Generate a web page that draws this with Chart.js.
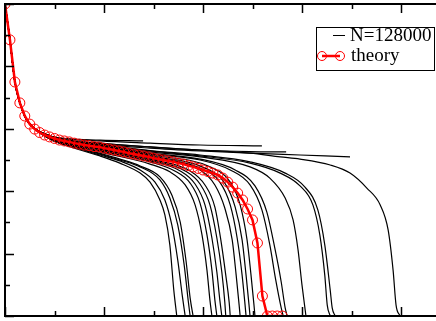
<!DOCTYPE html>
<html>
<head>
<meta charset="utf-8">
<script src="https://cdn.jsdelivr.net/npm/chart.js@4"></script>
<style>
  html, body { margin: 0; padding: 0; background: #fff; overflow: hidden; }
  canvas { display: block; }
</style>
</head>
<body>
<canvas id="chart" width="436" height="321"></canvas>
<script>
// --- Data ---
// theory curve, one circle every 0.01
const theoryX = [0, 0.01, 0.02, 0.03, 0.04, 0.05, 0.06, 0.07, 0.08, 0.09,
  0.10, 0.11, 0.12, 0.13, 0.14, 0.15, 0.16, 0.17, 0.18, 0.19,
  0.20, 0.21, 0.22, 0.23, 0.24, 0.25, 0.26, 0.27, 0.28, 0.29,
  0.30, 0.31, 0.32, 0.33, 0.34, 0.35, 0.36, 0.37, 0.38, 0.39,
  0.40, 0.41, 0.42, 0.43, 0.44, 0.45, 0.46, 0.47, 0.48, 0.49,
  0.50, 0.51, 0.52, 0.53, 0.54, 0.55, 0.56];
const theoryY = [1.000, 0.885, 0.750, 0.683, 0.641, 0.615, 0.599, 0.588, 0.580, 0.574,
  0.569, 0.564, 0.561, 0.558, 0.554, 0.551, 0.548, 0.546, 0.543, 0.542,
  0.538, 0.535, 0.532, 0.529, 0.526, 0.522, 0.519, 0.516, 0.513, 0.510,
  0.506, 0.503, 0.500, 0.497, 0.494, 0.490, 0.487, 0.482, 0.478, 0.473,
  0.468, 0.463, 0.458, 0.452, 0.442, 0.429, 0.413, 0.394, 0.372, 0.343,
  0.308, 0.234, 0.064, 0, 0, 0, 0];

// all N=128000 runs share the same start
const runHead = [[0, 1], [0.01, 0.885], [0.02, 0.75], [0.03, 0.683], [0.04, 0.641], [0.05, 0.615]];

// the rest of each run, [x, y]
const runTails = [
  [[0.091,0.567],[0.152,0.532],[0.192,0.513],[0.232,0.490],[0.273,0.458],[0.293,0.429],[0.313,0.372],[0.323,0.324],[0.333,0.228],[0.341,0.083],[0.347,0]],
  [[0.091,0.567],[0.152,0.535],[0.192,0.516],[0.232,0.497],[0.273,0.468],[0.303,0.429],[0.323,0.372],[0.337,0.292],[0.349,0.179],[0.358,0.067],[0.364,0]],
  [[0.091,0.571],[0.152,0.538],[0.192,0.519],[0.232,0.500],[0.273,0.478],[0.313,0.436],[0.333,0.378],[0.349,0.292],[0.362,0.163],[0.370,0.051],[0.374,0]],
  [[0.091,0.571],[0.192,0.521],[0.232,0.503],[0.273,0.481],[0.313,0.446],[0.337,0.388],[0.354,0.301],[0.366,0.173],[0.374,0.058],[0.380,0]],
  [[0.091,0.571],[0.192,0.526],[0.293,0.487],[0.333,0.462],[0.364,0.420],[0.384,0.356],[0.398,0.260],[0.408,0.147],[0.414,0.051],[0.418,0]],
  [[0.091,0.572],[0.192,0.529],[0.293,0.494],[0.343,0.465],[0.374,0.426],[0.394,0.362],[0.408,0.260],[0.418,0.147],[0.424,0.051],[0.428,0]],
  [[0.091,0.574],[0.192,0.532],[0.293,0.497],[0.354,0.465],[0.384,0.423],[0.404,0.356],[0.418,0.250],[0.428,0.141],[0.434,0.051],[0.438,0]],
  [[0.091,0.574],[0.192,0.534],[0.293,0.500],[0.364,0.465],[0.394,0.423],[0.414,0.356],[0.428,0.250],[0.438,0.141],[0.444,0.045],[0.446,0]],
  [[0.091,0.574],[0.192,0.535],[0.293,0.503],[0.374,0.465],[0.404,0.420],[0.424,0.349],[0.436,0.244],[0.446,0.131],[0.453,0.042],[0.455,0]],
  [[0.091,0.574],[0.192,0.538],[0.293,0.506],[0.394,0.468],[0.424,0.420],[0.444,0.346],[0.459,0.244],[0.467,0.131],[0.473,0.035],[0.475,0]],
  [[0.091,0.574],[0.192,0.540],[0.293,0.510],[0.394,0.474],[0.434,0.429],[0.455,0.356],[0.469,0.250],[0.479,0.131],[0.485,0.035],[0.487,0]],
  [[0.091,0.575],[0.192,0.542],[0.293,0.513],[0.404,0.474],[0.444,0.426],[0.465,0.349],[0.479,0.244],[0.487,0.131],[0.493,0.035],[0.495,0]],
  [[0.091,0.575],[0.192,0.543],[0.293,0.516],[0.414,0.478],[0.455,0.429],[0.475,0.356],[0.489,0.244],[0.497,0.131],[0.503,0.035],[0.505,0]],
  [[0.091,0.575],[0.192,0.545],[0.293,0.519],[0.394,0.500],[0.455,0.468],[0.495,0.420],[0.519,0.340],[0.535,0.228],[0.547,0.115],[0.558,0.026],[0.562,0]],
  [[0.091,0.577],[0.192,0.546],[0.293,0.522],[0.394,0.503],[0.465,0.468],[0.505,0.417],[0.529,0.333],[0.545,0.218],[0.558,0.109],[0.566,0.026],[0.570,0]],
  [[0.091,0.577],[0.192,0.548],[0.293,0.526],[0.394,0.510],[0.495,0.478],[0.535,0.442],[0.566,0.378],[0.582,0.308],[0.592,0.212],[0.600,0.099],[0.608,0]],
  [[0.091,0.577],[0.192,0.548],[0.293,0.529],[0.394,0.513],[0.495,0.490],[0.556,0.458],[0.596,0.417],[0.622,0.356],[0.636,0.260],[0.646,0.131],[0.651,0.035],[0.657,0]],
  [[0.091,0.577],[0.192,0.550],[0.293,0.530],[0.394,0.516],[0.495,0.494],[0.566,0.458],[0.606,0.413],[0.632,0.340],[0.646,0.228],[0.657,0.083],[0.661,0.026],[0.667,0]],
  [[0.091,0.577],[0.192,0.554],[0.293,0.542],[0.394,0.532],[0.495,0.522],[0.556,0.510],[0.596,0.503],[0.657,0.484],[0.697,0.458],[0.731,0.410],[0.758,0.356],[0.774,0.276],[0.784,0.147],[0.790,0.035],[0.798,0]],
  // runs that stop on the plateau
  [[0.091,0.577],[0.192,0.564],[0.279,0.561]],
  [[0.091,0.577],[0.192,0.561],[0.293,0.554],[0.394,0.548],[0.519,0.545]],
  [[0.091,0.574],[0.192,0.554],[0.293,0.542],[0.394,0.532],[0.495,0.527],[0.568,0.526]],
  [[0.091,0.574],[0.192,0.551],[0.293,0.538],[0.394,0.529],[0.495,0.522],[0.596,0.516],[0.697,0.510]]
];

// axis ticks (labels fall outside the picture)
const xMajor = [0, 0.2, 0.4, 0.6, 0.8];
const xMinor = [0.1, 0.3, 0.5, 0.7];
const yMajor = [0, 0.2, 0.4, 0.6, 0.8, 1.0];
const yMinor = [0.1, 0.3, 0.5, 0.7, 0.9];
const legendLabels = ['N=128000', 'theory'];

// --- Plugins ---
// xmgrace style frame with inward ticks
const framePlugin = {
  id: 'frame',
  afterDatasetsDraw(chart) {
    const { ctx, chartArea: a, scales: { x, y } } = chart;
    ctx.save();
    ctx.strokeStyle = '#000';
    ctx.lineWidth = 2;
    ctx.beginPath();
    ctx.moveTo(a.right, a.top);
    ctx.lineTo(a.left, a.top);
    ctx.lineTo(a.left, a.bottom);
    ctx.lineTo(a.right, a.bottom);
    ctx.stroke();

    ctx.lineWidth = 1.5;
    ctx.beginPath();
    const xTicks = (vals, len) => vals.forEach(v => {
      const px = Math.round(x.getPixelForValue(v)) + 0.5;
      ctx.moveTo(px, a.bottom); ctx.lineTo(px, a.bottom - len);
      ctx.moveTo(px, a.top); ctx.lineTo(px, a.top + len);
    });
    const yTicks = (vals, len) => vals.forEach(v => {
      const py = Math.round(y.getPixelForValue(v)) + 0.5;
      ctx.moveTo(a.left, py); ctx.lineTo(a.left + len, py);
    });
    xTicks(xMajor, 9);
    xTicks(xMinor, 5);
    yTicks(yMajor, 9);
    yTicks(yMinor, 5);
    ctx.stroke();
    ctx.restore();
  }
};

// boxed legend at the top right
const legendPlugin = {
  id: 'boxLegend',
  afterDraw(chart) {
    const { ctx, chartArea: a } = chart;
    const left = a.right - 120, top = a.top + 23;
    ctx.save();
    ctx.fillStyle = '#fff';
    ctx.fillRect(left, top, 118, 43);
    ctx.strokeStyle = '#000';
    ctx.lineWidth = 1;
    ctx.strokeRect(left + 0.5, top + 0.5, 118, 43);

    // N=128000
    ctx.beginPath();
    ctx.moveTo(left + 17, top + 8.5);
    ctx.lineTo(left + 29, top + 8.5);
    ctx.stroke();
    // theory
    ctx.strokeStyle = '#ff0000';
    ctx.lineWidth = 2.5;
    ctx.beginPath();
    ctx.moveTo(left + 6, top + 29);
    ctx.lineTo(left + 24, top + 29);
    ctx.stroke();
    ctx.lineWidth = 1;
    [left + 6, left + 24].forEach(cx => {
      ctx.beginPath();
      ctx.arc(cx, top + 29, 4.5, 0, Math.PI * 2);
      ctx.stroke();
    });

    ctx.fillStyle = '#000';
    ctx.font = '19px "Liberation Serif", serif';
    ctx.textBaseline = 'middle';
    ctx.fillText(legendLabels[0], left + 34, top + 9);
    ctx.fillText(legendLabels[1], left + 35, top + 29);
    ctx.restore();
  }
};

// --- Chart ---
const datasets = [{
  label: legendLabels[1],
  data: theoryX.map((x, i) => ({ x: x, y: theoryY[i] })),
  borderColor: '#ff0000',
  borderWidth: 2.5,
  tension: 0,
  pointRadius: 5,
  pointBorderWidth: 1,
  pointBorderColor: '#ff0000',
  pointBackgroundColor: 'rgba(255,255,255,0)'
}];

runTails.forEach((tail, k) => {
  datasets.push({
    label: k === 0 ? legendLabels[0] : '',
    data: runHead.concat(tail).map(p => ({ x: p[0], y: p[1] })),
    borderColor: '#000',
    borderWidth: 1.2,
    pointRadius: 0,
    cubicInterpolationMode: 'monotone'
  });
});

const ctx = document.querySelector('#chart').getContext('2d');
new Chart(ctx, {
  type: 'line',
  data: { datasets: datasets },
  options: {
    responsive: false,
    animation: false,
    devicePixelRatio: 1,
    layout: { autoPadding: false, padding: { left: 5, top: 4, right: 0, bottom: 5 } },
    plugins: {
      legend: { display: false },
      tooltip: { enabled: false }
    },
    scales: {
      x: { type: 'linear', min: 0, max: 0.8707, display: false },
      y: { type: 'linear', min: 0, max: 1, display: false }
    }
  },
  plugins: [framePlugin, legendPlugin]
});
</script>
</body>
</html>
